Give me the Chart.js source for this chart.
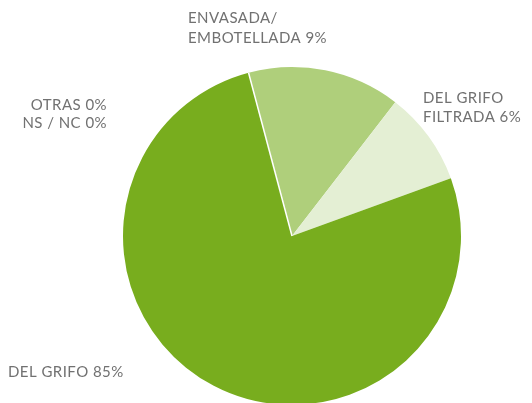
<!DOCTYPE html>
<html><head><meta charset="utf-8">
<script src="https://cdn.jsdelivr.net/npm/chart.js@4"></script>
<style>html,body{margin:0;padding:0;background:#fff;overflow:hidden}#wrap{width:532px;height:406px;position:relative}</style>
</head><body><div id="wrap"><canvas id="c"></canvas></div>
<script>
// Slice order follows clockwise drawing from the ENVASADA edge
const categories = ['ENVASADA/ EMBOTELLADA', 'DEL GRIFO FILTRADA', 'DEL GRIFO', 'OTRAS', 'NS / NC'];
const sliceValues = [14.6, 9.0, 76.4, 0, 0];
const labelPercents = ['9%', '6%', '85%', '0%', '0%'];
const colors = ['#afcf7b', '#e4efd4', '#78ad1e', '#78ad1e', '#78ad1e'];

const labelPlugin = {
  id: 'labels',
  afterDatasetsDraw(chart) {
    const ctx = chart.ctx;
    const arc = chart.getDatasetMeta(0).data[0];
    // white separator at start edge
    ctx.save();
    ctx.strokeStyle = '#ffffff';
    ctx.lineWidth = 1.5;
    ctx.beginPath();
    ctx.moveTo(arc.x, arc.y);
    ctx.lineTo(arc.x + Math.cos(arc.startAngle) * arc.outerRadius, arc.y + Math.sin(arc.startAngle) * arc.outerRadius);
    ctx.stroke();
    ctx.restore();

    ctx.save();
    ctx.fillStyle = '#717171';
    ctx.font = '15px Lato';
    ctx.letterSpacing = '0.45px';
    ctx.textBaseline = 'middle';
    ctx.textAlign = 'left';
    ctx.fillText('ENVASADA/', 188, 18);
    ctx.fillText('EMBOTELLADA ' + labelPercents[0], 188, 38);
    ctx.fillText('DEL GRIFO', 423, 98);
    ctx.fillText('FILTRADA ' + labelPercents[1], 423, 117);
    ctx.fillText(categories[2] + ' ' + labelPercents[2], 8, 372);
    ctx.textAlign = 'right';
    ctx.fillText(categories[3] + ' ' + labelPercents[3], 107, 105);
    ctx.fillText(categories[4] + ' ' + labelPercents[4], 107, 123);
    ctx.restore();
  }
};

new Chart(document.getElementById('c'), {
  type: 'pie',
  data: {
    labels: categories,
    datasets: [{ data: sliceValues, backgroundColor: colors, borderWidth: 0 }]
  },
  options: {
    responsive: true,
    maintainAspectRatio: false,
    animation: false,
    rotation: -14.9,
    layout: { padding: { top: 67, bottom: 1, left: 123, right: 71 } },
    plugins: { legend: { display: false }, tooltip: { enabled: false } }
  },
  plugins: [labelPlugin]
});
</script></body></html>
